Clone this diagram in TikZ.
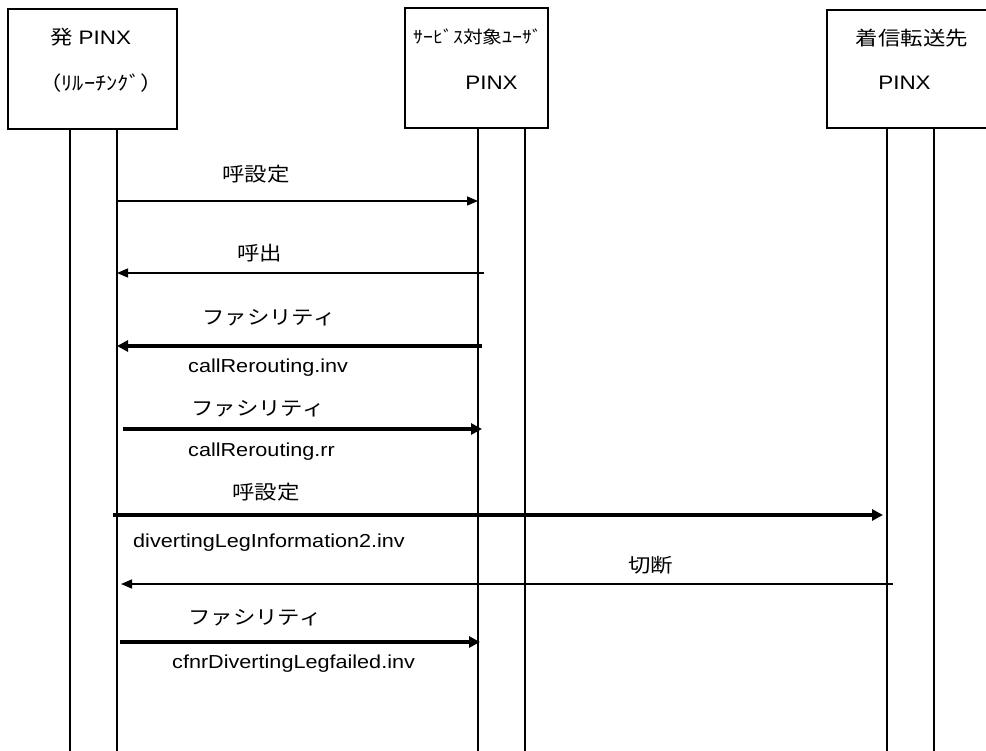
\documentclass[tikz,border=0pt]{standalone}
\usepackage{fontspec}
\setmainfont[FakeStretch=1.15]{Liberation Sans}
\newfontfamily\jpfam[FakeStretch=1.15]{Noto Sans CJK JP}
\usetikzlibrary{arrows.meta}
\newcommand\jpf{\jpfam\fontsize{19.5}{23}\selectfont}
\newcommand\jps{\jpfam\fontsize{17.2}{21}\selectfont}
\newcommand\enf{\fontsize{18.8}{22}\selectfont}
\newcommand\hdf{\fontsize{19.5}{23}\selectfont}
\tikzset{
  hdr/.style={draw, line width=1.6pt, inner sep=0pt},
  lane/.style={line width=1.6pt},
  thinmsg/.style={line width=1.5pt, -{Triangle[length=11pt,width=9pt]}},
  thickmsg/.style={line width=4.5pt, -{Triangle[length=11pt,width=11pt]}},
  jlab/.style={anchor=west, inner sep=0pt, font=\jpf},
  elab/.style={anchor=west, inner sep=0pt, font=\enf},
}
\begin{document}
\begin{tikzpicture}[x=1pt,y=-1pt]
\useasboundingbox (0,0) rectangle (986,751);
\clip (0,0) rectangle (986,751);
% header boxes
\node[hdr, minimum width=169pt, minimum height=120pt] (b1) at (92.5,69) {};
\node[hdr, minimum width=143pt, minimum height=120pt] (b2) at (476.5,68) {};
\node[hdr, minimum width=170pt, minimum height=118pt] (b3) at (912,69) {};
% header texts
\node[font=\hdf] (t1a) at (90.5,37) {{\jpfam 発} PINX};
\node[font=\jpf] (t1b) at (101,83) {（ﾘﾙｰﾁﾝｸﾞ）};
\node[font=\jps] (t2a) at (478,37) {ｻｰﾋﾞｽ対象ﾕｰｻﾞ};
\node[font=\hdf] (t2b) at (491.5,83) {PINX};
\node[font=\jpf] (t3a) at (912,38) {着信転送先};
\node[font=\hdf] (t3b) at (904.5,83) {PINX};
% lifelines
\coordinate (l1t) at (70,129);  \coordinate (l1b) at (70,760);
\coordinate (l2t) at (117,129); \coordinate (l2b) at (117,760);
\coordinate (l3t) at (478,128); \coordinate (l3b) at (478,760);
\coordinate (l4t) at (525,128); \coordinate (l4b) at (525,760);
\coordinate (l5t) at (887,128); \coordinate (l5b) at (887,760);
\coordinate (l6t) at (934,128); \coordinate (l6b) at (934,760);
\draw[lane] (l1t) -- (l1b);
\draw[lane] (l2t) -- (l2b);
\draw[lane] (l3t) -- (l3b);
\draw[lane] (l4t) -- (l4b);
\draw[lane] (l5t) -- (l5b);
\draw[lane] (l6t) -- (l6b);
% messages
\coordinate (m1s) at (117,201); \coordinate (m1e) at (478,201);
\draw[thinmsg] (m1s) -- (m1e);
\node[jlab] (m1l) at (222,174) {呼設定};

\coordinate (m2s) at (484,273); \coordinate (m2e) at (117,273);
\draw[thinmsg] (m2s) -- (m2e);
\node[jlab] (m2l) at (237,253) {呼出};

\coordinate (m3s) at (482,346); \coordinate (m3e) at (117,346);
\draw[thickmsg] (m3s) -- (m3e);
\node[jlab] (m3l) at (202,318) {ファシリティ};
\node[elab] (m3p) at (188,368) {callRerouting.inv};

\coordinate (m4s) at (123,429); \coordinate (m4e) at (482,429);
\draw[thickmsg] (m4s) -- (m4e);
\node[jlab] (m4l) at (191,409) {ファシリティ};
\node[elab] (m4p) at (188,452) {callRerouting.rr};

\coordinate (m5s) at (113,515); \coordinate (m5e) at (883,515);
\draw[thickmsg] (m5s) -- (m5e);
\node[jlab] (m5l) at (232,492) {呼設定};
\node[elab] (m5p) at (133,543) {divertingLegInformation2.inv};

\coordinate (m6s) at (893,584); \coordinate (m6e) at (121,584);
\draw[thinmsg] (m6s) -- (m6e);
\node[jlab] (m6l) at (628,565) {切断};

\coordinate (m7s) at (120,642); \coordinate (m7e) at (480,642);
\draw[thickmsg] (m7s) -- (m7e);
\node[jlab] (m7l) at (188,618) {ファシリティ};
\node[elab] (m7p) at (172,664) {cfnrDivertingLegfailed.inv};
\end{tikzpicture}
\end{document}
